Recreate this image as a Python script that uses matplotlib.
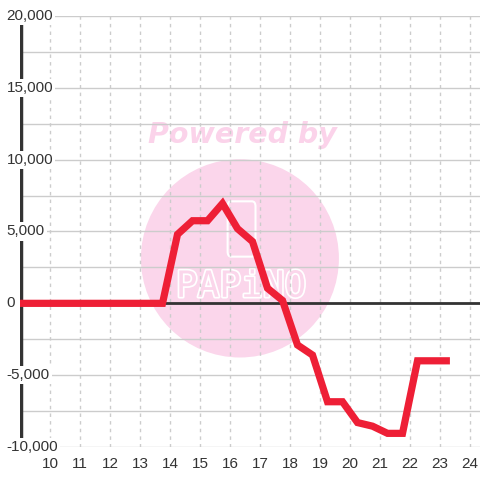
import matplotlib
matplotlib.use("Agg")
import matplotlib.pyplot as plt
from matplotlib.patches import Ellipse, FancyBboxPatch
import matplotlib.patheffects as pe

# data
hours = [9, 13.75, 14.25, 14.75, 15.25, 15.75, 16.25, 16.75, 17.25, 17.75,
         18.25, 18.75, 19.25, 19.75, 20.25, 20.75, 21.25, 21.75, 22.25, 23.33]
values = [0, 0, 4800, 5750, 5750, 6950, 5200, 4300, 1050, 200,
          -2900, -3600, -6850, -6850, -8300, -8550, -9050, -9050, -4000, -4000]
x_ticks = list(range(10, 25))
y_labels = [20000, 15000, 10000, 5000, 0, -5000, -10000]

plt.rcParams['font.family'] = ['Liberation Sans', 'DejaVu Sans']

fig = plt.figure(figsize=(4.8, 4.8), dpi=100)
fig.patch.set_facecolor('white')
ax = fig.add_axes([20/480, 33/480, 460/480, 431/480])
ax.set_xlim(9, 24.333)
ax.set_ylim(-10000, 20000)
for s in ax.spines.values():
    s.set_visible(False)

# grid
ax.set_axisbelow(True)
ax.set_yticks(range(-10000, 20001, 2500))
ax.set_xticks(x_ticks)
ax.yaxis.grid(True, color='#cccccc', linewidth=1, linestyle='-')
ax.xaxis.grid(True, color='#cccccc', linewidth=1, linestyle=(0, (2.5, 3)))
ax.tick_params(axis='y', left=False, labelleft=False)
ax.tick_params(axis='x', length=0, pad=7, labelsize=11, labelcolor='#333333')

# watermark
ax.add_patch(Ellipse((16.33, 3130), 6.6, 13800, facecolor='#fbd6eb',
                     edgecolor='none', zorder=0.1))
ax.text(16.4, 11700, 'Powered by', color='#fbd3ea', fontsize=20.5,
        fontweight='bold', fontstyle='italic', family='DejaVu Sans',
        ha='center', va='center', zorder=0.2)
ax.add_patch(FancyBboxPatch((15.92, 3250), 0.93, 3850,
                            boxstyle='round,pad=0,rounding_size=0.12',
                            facecolor='none', edgecolor='white', linewidth=1.5,
                            mutation_aspect=3000, zorder=0.2))
ax.text(16.37, 1150, 'PAPiNO', color='#fbd6eb', fontsize=26,
        family='DejaVu Sans Mono', ha='center', va='center', zorder=0.2,
        path_effects=[pe.withStroke(linewidth=2.5, foreground='white')])

# axis lines
ax.axvline(9.03, color='#333333', linewidth=2.5, zorder=2)
ax.axhline(0, color='#333333', linewidth=2, zorder=2)

# data line
ax.plot(hours, values, color='#ee1f36', linewidth=5.2, zorder=3,
        solid_joinstyle='miter', solid_capstyle='butt')

# y labels drawn over the axis line
for v in y_labels:
    ax.text(8.55, v, f'{v:,}', ha='left', va='center',
            fontsize=11, color='#333333', clip_on=False, zorder=4,
            bbox=dict(facecolor='white', edgecolor='none', pad=1.5))

fig.savefig('out.png', dpi=100)
